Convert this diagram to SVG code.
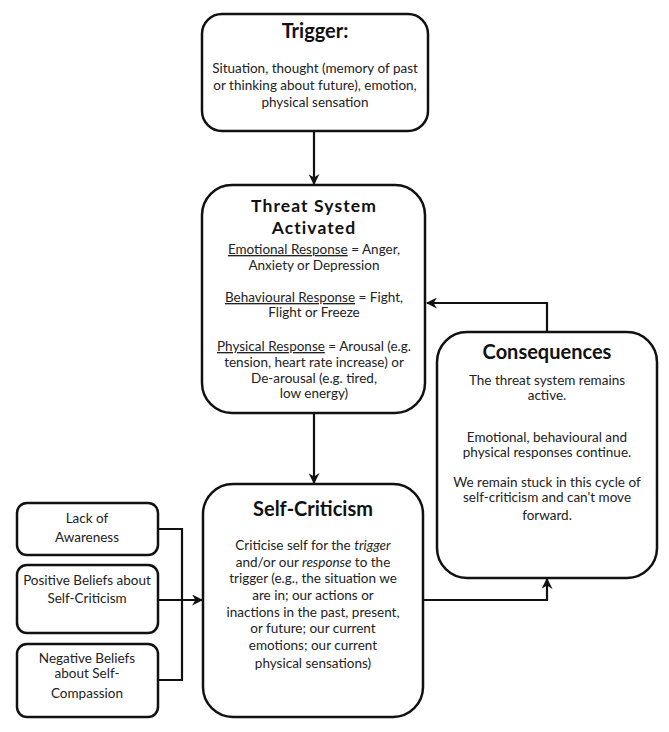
<svg xmlns="http://www.w3.org/2000/svg" width="669" height="732" viewBox="0 0 669 732">
<style>
.box{fill:#fff;stroke:#111;stroke-width:2.5}
.t{font-family:Lato,"Open Sans",sans-serif;font-size:13.5px;fill:#222;text-anchor:middle}
.h{font-family:Lato,"Open Sans",sans-serif;font-size:20px;font-weight:bold;fill:#111;text-anchor:middle}
.h2{font-family:Lato,"Open Sans",sans-serif;font-size:17.5px;letter-spacing:1.1px;font-weight:bold;fill:#111;text-anchor:middle}
.u{text-decoration:underline}
.c{fill:none;stroke:#111;stroke-width:2.2}
</style>
<defs>
<marker id="ah" viewBox="0 0 10 10" refX="9" refY="5" markerWidth="5" markerHeight="5" orient="auto" markerUnits="strokeWidth">
<path d="M0,0 L10,5 L0,10 L3,5 z" fill="#111"/>
</marker>
</defs>
<rect width="669" height="732" fill="#fff"/>
<g id="connectors">
<line class="c" x1="314" y1="131" x2="314" y2="184" marker-end="url(#ah)"/>
<line class="c" x1="314" y1="413" x2="314" y2="483" marker-end="url(#ah)"/>
<polyline class="c" points="547,332 547,303 427,303" marker-end="url(#ah)"/>
<polyline class="c" points="423,600 547,600 547,579" marker-end="url(#ah)"/>
<polyline class="c" points="158,529 182,529 182,680 158,680"/>
<line class="c" x1="158" y1="600" x2="202" y2="600" marker-end="url(#ah)"/>
</g>
<g id="trigger">
<rect class="box" x="202" y="14" width="226" height="117" rx="20"/>
<text class="h" x="315" y="38">Trigger:</text>
<text class="t" x="315" y="73">Situation, thought (memory of past</text>
<text class="t" x="315" y="90">or thinking about future), emotion,</text>
<text class="t" x="315" y="107">physical sensation</text>
</g>
<g id="threat">
<rect class="box" x="202" y="185" width="223" height="228" rx="30"/>
<text class="h2" x="314" y="212">Threat System</text>
<text class="h2" x="314" y="234">Activated</text>
<text class="t" x="314" y="254"><tspan class="u">Emotional Response</tspan> = Anger,</text>
<text class="t" x="314" y="270">Anxiety or Depression</text>
<text class="t" x="314" y="302"><tspan class="u">Behavioural Response</tspan> = Fight,</text>
<text class="t" x="314" y="317">Flight or Freeze</text>
<text class="t" x="314" y="351"><tspan class="u">Physical Response</tspan> = Arousal (e.g.</text>
<text class="t" x="314" y="367">tension, heart rate increase) or</text>
<text class="t" x="314" y="383">De-arousal (e.g. tired,</text>
<text class="t" x="314" y="398">low energy)</text>
</g>
<g id="consequences">
<rect class="box" x="437" y="332" width="220" height="246" rx="30"/>
<text class="h" x="547" y="359">Consequences</text>
<text class="t" x="547" y="385">The threat system remains</text>
<text class="t" x="547" y="400">active.</text>
<text class="t" x="547" y="442">Emotional, behavioural and</text>
<text class="t" x="547" y="457">physical responses continue.</text>
<text class="t" x="547" y="487">We remain stuck in this cycle of</text>
<text class="t" x="547" y="502">self-criticism and can't move</text>
<text class="t" x="547" y="520">forward.</text>
</g>
<g id="selfcriticism">
<rect class="box" x="203" y="484" width="220" height="233" rx="30"/>
<text class="h" x="313" y="516">Self-Criticism</text>
<text class="t" x="313" y="550">Criticise self for the <tspan font-style="italic">trigger</tspan></text>
<text class="t" x="313" y="567">and/or our <tspan font-style="italic">response</tspan> to the</text>
<text class="t" x="313" y="583">trigger (e.g., the situation we</text>
<text class="t" x="313" y="600">are in; our actions or</text>
<text class="t" x="313" y="617">inactions in the past, present,</text>
<text class="t" x="313" y="633">or future; our current</text>
<text class="t" x="313" y="650">emotions; our current</text>
<text class="t" x="313" y="668">physical sensations)</text>
</g>
<g id="lack">
<rect class="box" x="17" y="503" width="141" height="52" rx="10"/>
<text class="t" x="87" y="523">Lack of</text>
<text class="t" x="87" y="542">Awareness</text>
</g>
<g id="positive">
<rect class="box" x="17" y="565" width="141" height="68" rx="10"/>
<text class="t" x="87" y="585">Positive Beliefs about</text>
<text class="t" x="87" y="603">Self-Criticism</text>
</g>
<g id="negative">
<rect class="box" x="17" y="644" width="141" height="73" rx="10"/>
<text class="t" x="87" y="663">Negative Beliefs</text>
<text class="t" x="87" y="678">about Self-</text>
<text class="t" x="87" y="698">Compassion</text>
</g>
</svg>
